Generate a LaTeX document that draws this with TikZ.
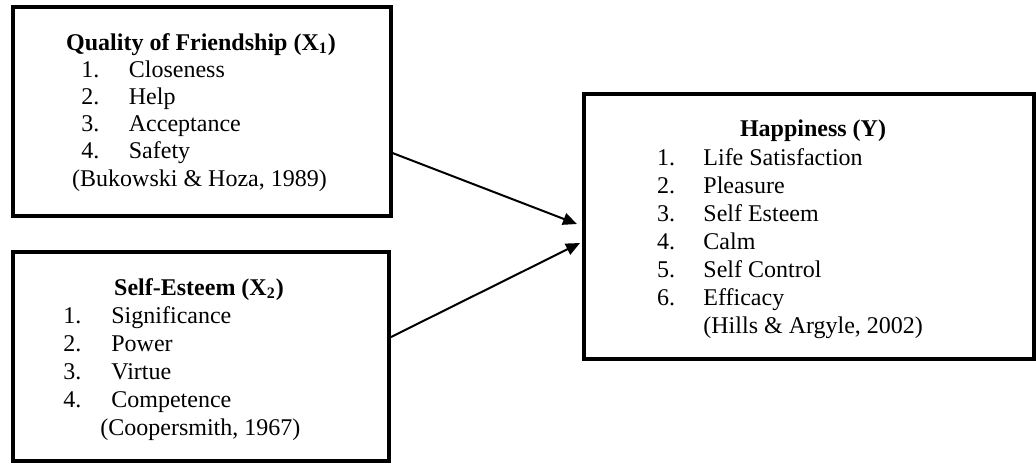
\documentclass[tikz,border=0pt]{standalone}
\usepackage{fontspec}
\setmainfont{Liberation Serif}
\usetikzlibrary{arrows.meta}
\begin{document}
\begin{tikzpicture}[x=0.5pt,y=-0.5pt,
  box/.style={draw,line width=2pt,rectangle,inner sep=0pt},
  txt/.style={inner sep=0pt,font=\fontsize{12}{14}\selectfont,anchor=base west},
  ctr/.style={inner sep=0pt,font=\fontsize{12}{14}\selectfont,anchor=base},
  ttl/.style={inner sep=0pt,font=\fontsize{12}{14}\selectfont\bfseries,anchor=base},
  arr/.style={line width=1pt,-{Triangle[length=7pt,width=6pt]}}]
\useasboundingbox (0,0) rectangle (1036,463);

% boxes
\node[box,minimum width=189pt,minimum height=104.25pt] (box1) at (201.5,111.25) {};
\node[box,minimum width=188pt,minimum height=104.25pt] (box2) at (201,356.25) {};
\node[box,minimum width=225pt,minimum height=132.5pt] (box3) at (809,226.5) {};

% box 1
\node[ttl] (t1) at (201,50) {Quality of Friendship (X\textsubscript{1})};
\node[txt] (n11) at (81,77) {1.};  \node[txt] (i11) at (128.5,77) {Closeness};
\node[txt] (n12) at (81,104.3) {2.}; \node[txt] (i12) at (128.5,104.3) {Help};
\node[txt] (n13) at (81,131.6) {3.}; \node[txt] (i13) at (128.5,131.6) {Acceptance};
\node[txt] (n14) at (81,158.9) {4.}; \node[txt] (i14) at (128.5,158.9) {Safety};
\node[ctr] (c1) at (199.5,186.5) {(Bukowski \& Hoza, 1989)};

% box 2
\node[ttl] (t2) at (199,295) {Self-Esteem (X\textsubscript{2})};
\node[txt] (n21) at (63,323) {1.};  \node[txt] (i21) at (111,323) {Significance};
\node[txt] (n22) at (63,351) {2.}; \node[txt] (i22) at (111,351) {Power};
\node[txt] (n23) at (63,379) {3.}; \node[txt] (i23) at (111,379) {Virtue};
\node[txt] (n24) at (63,407) {4.}; \node[txt] (i24) at (111,407) {Competence};
\node[txt] (c2) at (100,435) {(Coopersmith, 1967)};

% box 3
\node[ttl] (t3) at (813,136.5) {Happiness (Y)};
\node[txt] (n31) at (656.7,165.5) {1.}; \node[txt] (i31) at (703,165.5) {Life Satisfaction};
\node[txt] (n32) at (656.7,193.5) {2.}; \node[txt] (i32) at (703,193.5) {Pleasure};
\node[txt] (n33) at (656.7,221.5) {3.}; \node[txt] (i33) at (703,221.5) {Self Esteem};
\node[txt] (n34) at (656.7,249.5) {4.}; \node[txt] (i34) at (703,249.5) {Calm};
\node[txt] (n35) at (656.7,277.5) {5.}; \node[txt] (i35) at (703,277.5) {Self Control};
\node[txt] (n36) at (656.7,305.5) {6.}; \node[txt] (i36) at (703,305.5) {Efficacy};
\node[txt] (c3) at (703,333.5) {(Hills \& Argyle, 2002)};

% arrows
\coordinate (tip1) at (577,224);
\coordinate (tip2) at (580,243);
\draw[arr] (box1.east |- 0,153) -- (tip1);
\draw[arr] (box2.east |- 0,337) -- (tip2);
\end{tikzpicture}
\end{document}
